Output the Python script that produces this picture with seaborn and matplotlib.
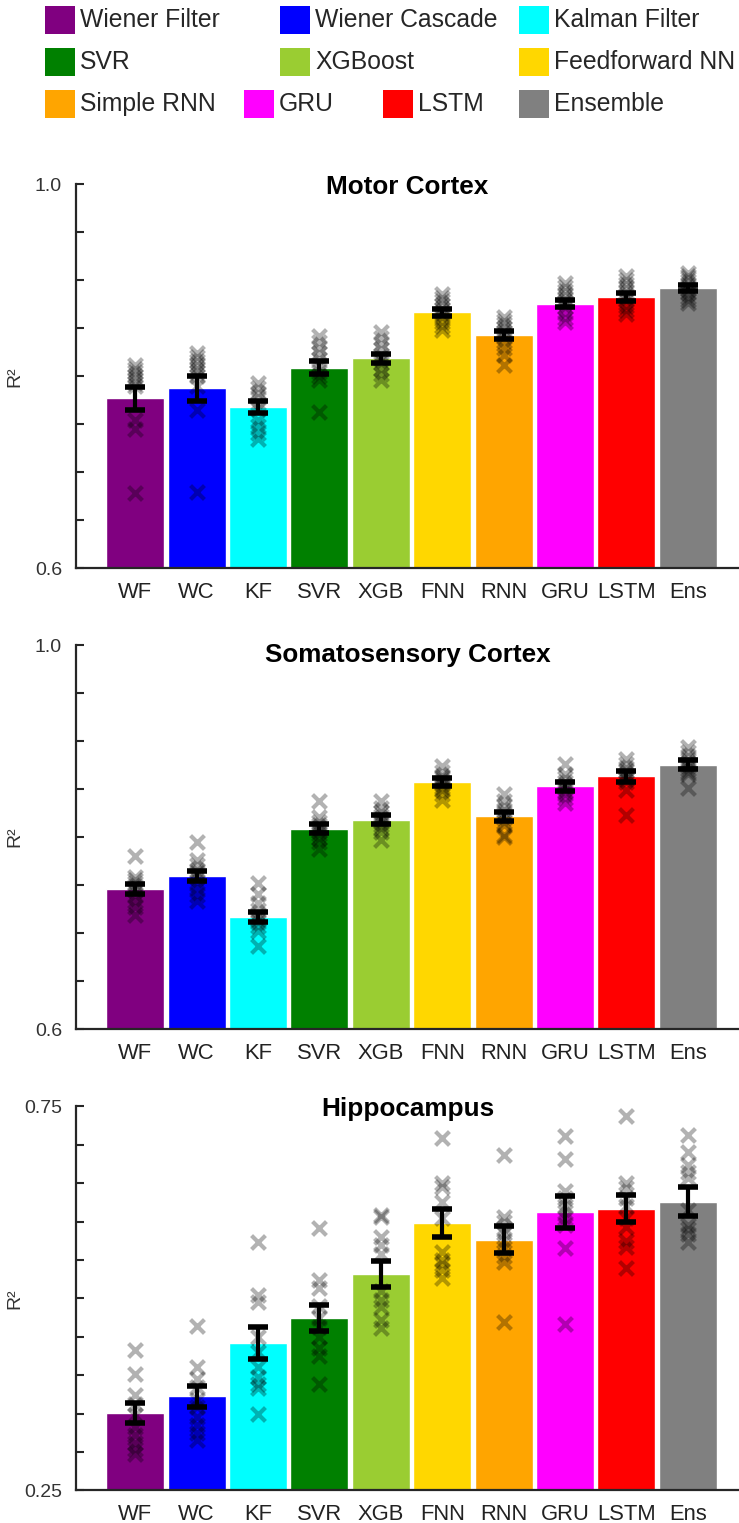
import numpy as np
import pandas as pd
import matplotlib
matplotlib.use('Agg')
import matplotlib.pyplot as plt
from matplotlib.patches import Rectangle
import seaborn as sns

# ------------------ Data ------------------
abbrev = ['WF', 'WC', 'KF', 'SVR', 'XGB', 'FNN', 'RNN', 'GRU', 'LSTM', 'Ens']
full_names = ['Wiener Filter', 'Wiener Cascade', 'Kalman Filter', 'SVR', 'XGBoost',
              'Feedforward NN', 'Simple RNN', 'GRU', 'LSTM', 'Ensemble']
colors = ['purple', 'blue', 'cyan', 'green', 'yellowgreen',
          'gold', 'orange', 'magenta', 'red', 'gray']

# Motor cortex
m1_mean = [0.777, 0.7875, 0.768, 0.809, 0.819, 0.8667, 0.843, 0.8757, 0.8826, 0.892]
m1_sem = [0.012, 0.013, 0.006, 0.0065, 0.0047, 0.0035, 0.0045, 0.004, 0.0038, 0.0035]
m1_folds = [
    [0.812, 0.808, 0.804, 0.800, 0.797, 0.793, 0.790, 0.755, 0.745, 0.678],
    [0.824, 0.820, 0.816, 0.812, 0.808, 0.804, 0.800, 0.790, 0.765, 0.680],
    [0.793, 0.788, 0.783, 0.778, 0.772, 0.766, 0.755, 0.748, 0.741, 0.735],
    [0.842, 0.836, 0.830, 0.824, 0.818, 0.812, 0.805, 0.800, 0.796, 0.763],
    [0.846, 0.840, 0.834, 0.828, 0.822, 0.818, 0.814, 0.808, 0.802, 0.796],
    [0.886, 0.882, 0.878, 0.874, 0.870, 0.866, 0.862, 0.857, 0.852, 0.848],
    [0.862, 0.858, 0.854, 0.850, 0.846, 0.842, 0.837, 0.830, 0.822, 0.812],
    [0.897, 0.893, 0.889, 0.885, 0.881, 0.877, 0.872, 0.866, 0.861, 0.857],
    [0.904, 0.900, 0.896, 0.892, 0.888, 0.884, 0.879, 0.873, 0.869, 0.865],
    [0.908, 0.905, 0.902, 0.899, 0.895, 0.891, 0.887, 0.883, 0.879, 0.876],
]

# Somatosensory cortex
s1_mean = [0.7462, 0.7594, 0.7167, 0.8087, 0.818, 0.857, 0.8215, 0.8528, 0.8632, 0.8753]
s1_sem = [0.0052, 0.0052, 0.0055, 0.0049, 0.0049, 0.0042, 0.005, 0.0045, 0.0057, 0.0049]
s1_folds = [
    [0.780, 0.758, 0.755, 0.752, 0.749, 0.745, 0.740, 0.733, 0.727, 0.719],
    [0.795, 0.776, 0.771, 0.766, 0.762, 0.758, 0.753, 0.747, 0.740, 0.733],
    [0.752, 0.741, 0.731, 0.724, 0.719, 0.715, 0.711, 0.707, 0.702, 0.686],
    [0.837, 0.821, 0.816, 0.812, 0.809, 0.806, 0.803, 0.799, 0.795, 0.787],
    [0.838, 0.830, 0.826, 0.822, 0.819, 0.816, 0.813, 0.809, 0.805, 0.797],
    [0.874, 0.868, 0.864, 0.861, 0.858, 0.855, 0.852, 0.849, 0.845, 0.839],
    [0.845, 0.838, 0.832, 0.828, 0.824, 0.820, 0.816, 0.812, 0.802, 0.800],
    [0.876, 0.866, 0.861, 0.857, 0.854, 0.851, 0.848, 0.845, 0.841, 0.835],
    [0.881, 0.876, 0.872, 0.869, 0.866, 0.863, 0.860, 0.857, 0.849, 0.823],
    [0.894, 0.889, 0.884, 0.880, 0.877, 0.874, 0.871, 0.868, 0.866, 0.851],
]

# Hippocampus
hc_mean = [0.3501, 0.3726, 0.4415, 0.474, 0.5317, 0.598, 0.5764, 0.6123, 0.6167, 0.6258]
hc_sem = [0.013, 0.0137, 0.0206, 0.0171, 0.0173, 0.0184, 0.0176, 0.0208, 0.0176, 0.0189]
hc_folds = [
    [0.433, 0.402, 0.374, 0.362, 0.348, 0.333, 0.322, 0.312, 0.304, 0.297],
    [0.464, 0.411, 0.395, 0.385, 0.368, 0.358, 0.345, 0.335, 0.324, 0.315],
    [0.573, 0.504, 0.495, 0.450, 0.430, 0.411, 0.398, 0.389, 0.383, 0.350],
    [0.591, 0.524, 0.513, 0.490, 0.475, 0.462, 0.450, 0.435, 0.425, 0.389],
    [0.609, 0.606, 0.580, 0.569, 0.558, 0.510, 0.498, 0.489, 0.472, 0.461],
    [0.709, 0.650, 0.645, 0.625, 0.605, 0.560, 0.550, 0.545, 0.537, 0.526],
    [0.686, 0.606, 0.600, 0.592, 0.585, 0.575, 0.565, 0.555, 0.547, 0.469],
    [0.711, 0.682, 0.640, 0.630, 0.620, 0.612, 0.605, 0.595, 0.565, 0.467],
    [0.738, 0.650, 0.644, 0.630, 0.620, 0.605, 0.593, 0.575, 0.567, 0.539],
    [0.712, 0.690, 0.673, 0.664, 0.656, 0.615, 0.590, 0.595, 0.584, 0.573],
]

# ------------------ Style ------------------
sns.set_style('ticks')
plt.rcParams['font.family'] = ['Liberation Sans', 'DejaVu Sans']

W, H = 739, 1523
fig = plt.figure(figsize=(W / 100, H / 100), dpi=100)


def draw_panel(bottom_px, title, means, sems, folds, ylo, yhi, lo_lab, hi_lab, title_y):
    ax = fig.add_axes([76 / W, 1 - bottom_px / H, (W - 76) / W, 384 / H])

    sns.barplot(x=abbrev, y=means, hue=abbrev, palette=colors, saturation=1,
                width=0.945, legend=False, ax=ax)

    df = pd.DataFrame({'model': np.repeat(abbrev, [len(f) for f in folds]),
                       'r2': np.concatenate(folds)})
    sns.stripplot(data=df, x='model', y='r2', order=abbrev, marker='x',
                  color='black', alpha=0.3, size=10, linewidth=3,
                  jitter=False, ax=ax, zorder=3)

    ax.errorbar(np.arange(len(abbrev)), means, yerr=sems, fmt='none',
                ecolor='black', elinewidth=3, capsize=7.5, capthick=4, zorder=5)

    ax.set_xlim(-0.964, 9.834)
    ax.set_ylim(ylo, yhi)
    ticks = np.linspace(ylo, yhi, int(round((yhi - ylo) / 0.05)) + 1)
    ax.set_yticks(ticks)
    ax.set_yticklabels([lo_lab] + [''] * (len(ticks) - 2) + [hi_lab])
    ax.set_xlabel('')
    ax.set_ylabel('R²', fontsize=14, color='#333333')
    ax.yaxis.set_label_coords(-0.080, 0.5)

    ax.tick_params(axis='y', direction='in', length=6, width=1.5, pad=10,
                   labelsize=14, labelcolor='#333333', color='#262626')
    ax.tick_params(axis='x', length=0, pad=10, labelsize=15.8, labelcolor='#222222')
    for side in ['top', 'right']:
        ax.spines[side].set_visible(False)
    for side in ['left', 'bottom']:
        ax.spines[side].set_linewidth(1.6)
        ax.spines[side].set_color('#262626')

    ax.text(0.5, title_y, title, transform=ax.transAxes, ha='center', va='center',
            fontsize=18.8, fontweight='bold', color='black')
    return ax


draw_panel(568.3, 'Motor Cortex', m1_mean, m1_sem, m1_folds, 0.6, 1.0, '0.6', '1.0', 0.993)
draw_panel(1029, 'Somatosensory Cortex', s1_mean, s1_sem, s1_folds, 0.6, 1.0, '0.6', '1.0', 0.974)
draw_panel(1490.3, 'Hippocampus', hc_mean, hc_sem, hc_folds, 0.25, 0.75, '0.25', '0.75', 0.994)

# ------------------ Legend (manual layout) ------------------
legend_rows = [[0, 1, 2], [3, 4, 5], [6, 7, 8, 9]]
row_y = [20, 62, 104]
row_x = [[45, 280, 519], [45, 280, 519], [45, 244, 383, 519]]
for idxs, yc, xs in zip(legend_rows, row_y, row_x):
    for i, x0 in zip(idxs, xs):
        fig.add_artist(Rectangle((x0 / W, 1 - (yc + 14) / H), 30 / W, 28 / H,
                                 transform=fig.transFigure, facecolor=colors[i],
                                 edgecolor='none'))
        fig.text((x0 + 35) / W, 1 - yc / H, full_names[i], ha='left', va='center',
                 fontsize=17.8, color='#262626')

fig.savefig('out.png', dpi=100)
